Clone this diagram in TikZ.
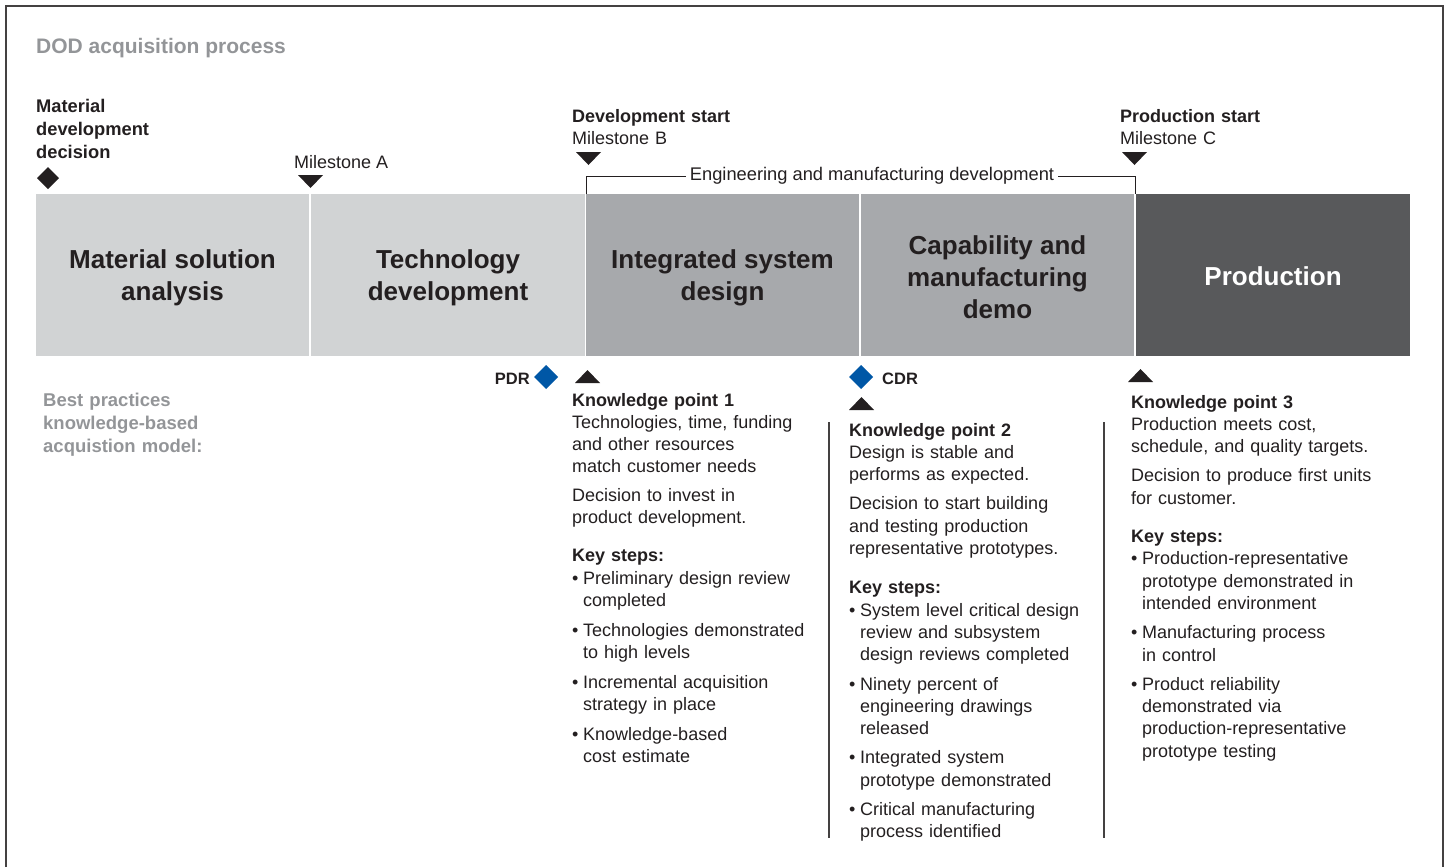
\documentclass[tikz,border=0pt]{standalone}
\usepackage{fontspec}
\setmainfont{Liberation Sans}
\definecolor{ink}{HTML}{231F20}
\definecolor{barlight}{HTML}{D1D3D4}
\definecolor{barmid}{HTML}{A7A9AC}
\definecolor{bardark}{HTML}{58595B}
\definecolor{titlegray}{HTML}{939598}
\definecolor{dblue}{HTML}{0057A6}
\newcommand{\bul}{\makebox[11pt][l]{\textbullet}}
\newcommand{\ind}{\hspace*{11pt}}
\tikzset{
  bartext/.style={font=\fontsize{26}{32}\selectfont\bfseries, text=ink, align=center},
  small/.style={font=\fontsize{18}{22.3}\selectfont, text=ink, inner sep=0pt, anchor=base west},
  block/.style={small, text width=270pt, align=left},
  mark/.style={fill=ink, draw=none},
}
\begin{document}
\begin{tikzpicture}[x=1pt,y=-1pt]
\useasboundingbox (0,0) rectangle (1447,867);
% border
\draw[line width=1.5pt, draw=ink!85] (6,867) -- (6,6) -- (1443,6) -- (1443,867);
% title
\node[small, font=\fontsize{21}{25}\selectfont\bfseries, text=titlegray] (title) at (36,54) {DOD acquisition process};
% material development decision
\node[block, font=\fontsize{18.3}{23}\selectfont\bfseries] (mdd) at (36,112) {Material\\development\\decision};
\fill[ink] (48,167) -- (59,178) -- (48,189) -- (37,178) -- cycle;
% milestone A
\node[small] (msa) at (294,168) {Milestone A};
\fill[ink] (298,175) -- (323,175) -- (310.5,188) -- cycle;
% milestone B
\node[block] (msb) at (572,122) {\textbf{Development start}\\[-0.3pt]Milestone B};
\fill[ink] (576,152) -- (601,152) -- (588.5,165) -- cycle;
% milestone C
\node[block] (msc) at (1120,122) {\textbf{Production start}\\[-0.3pt]Milestone C};
\fill[ink] (1122,152) -- (1147,152) -- (1134.5,165) -- cycle;
% bars
\fill[barlight] (36,194) rectangle (309,356);
\fill[barlight] (311,194) rectangle (585,356);
\fill[barmid] (586,194) rectangle (859,356);
\fill[barmid] (861,194) rectangle (1134,356);
\fill[bardark] (1136,194) rectangle (1410,356);
\node[bartext] (b1) at (172.5,278) {Material solution\\analysis};
\node[bartext] (b2) at (448,278) {Technology\\development};
\node[bartext] (b3) at (722.5,278) {Integrated system\\design};
\node[bartext] (b4) at (997.5,277) {Capability and\\manufacturing\\demo};
\node[bartext, text=white] (b5) at (1273,276) {Production};
% bracket
\node[font=\fontsize{18.3}{22}\selectfont, text=ink, inner sep=4pt] (emd) at (872,176) {Engineering and manufacturing development};
\draw[line width=1pt, draw=ink] (586,194) |- (emd.west);
\draw[line width=1pt, draw=ink] (emd.east) -| (1135,194);
% PDR
\node[small, font=\fontsize{16.5}{20}\selectfont\bfseries, anchor=base east] (pdr) at (530,384) {PDR};
\fill[dblue] (546,365) -- (558,377) -- (546,389) -- (534,377) -- cycle;
% CDR
\fill[dblue] (861,365) -- (873,377) -- (861,389) -- (849,377) -- cycle;
\node[small, font=\fontsize{16.5}{20}\selectfont\bfseries] (cdr) at (882,384) {CDR};
% up triangles
\fill[ink] (575,383) -- (600,383) -- (587.5,370) -- cycle;
\fill[ink] (849,410) -- (874,410) -- (861.5,397) -- cycle;
\fill[ink] (1128,382) -- (1153,382) -- (1140.5,369) -- cycle;
% vertical rules
\draw[line width=1.2pt, draw=ink!85] (829,422) -- (829,838);
\draw[line width=1.2pt, draw=ink!85] (1104,422) -- (1104,838);
% best practices
\node[block, font=\fontsize{18.5}{23}\selectfont\bfseries, text=titlegray] (bp) at (43,406) {Best practices\\knowledge-based\\acquistion model:};
% KP1
\node[block] (kp1) at (572,406) {\textbf{Knowledge point 1}\\
Technologies, time, funding\\
and other resources\\
match customer needs\\[6pt]
Decision to invest in\\
product development.\\[16pt]
\textbf{Key steps:}\\
\bul Preliminary design review\\
\ind completed\\[7.5pt]
\bul Technologies demonstrated\\
\ind to high levels\\[7.5pt]
\bul Incremental acquisition\\
\ind strategy in place\\[7.5pt]
\bul Knowledge-based\\
\ind cost estimate};
% KP2
\node[block] (kp2) at (849,436) {\textbf{Knowledge point 2}\\
Design is stable and\\
performs as expected.\\[7pt]
Decision to start building\\
and testing production\\
representative prototypes.\\[17pt]
\textbf{Key steps:}\\
\bul System level critical design\\
\ind review and subsystem\\
\ind design reviews completed\\[7pt]
\bul Ninety percent of\\
\ind engineering drawings\\
\ind released\\[7pt]
\bul Integrated system\\
\ind prototype demonstrated\\[7pt]
\bul Critical manufacturing\\
\ind process identified};
% KP3
\node[block] (kp3) at (1131,408) {\textbf{Knowledge point 3}\\
Production meets cost,\\
schedule, and quality targets.\\[7pt]
Decision to produce first units\\
for customer.\\[16pt]
\textbf{Key steps:}\\
\bul Production-representative\\
\ind prototype demonstrated in\\
\ind intended environment\\[7pt]
\bul Manufacturing process\\
\ind in control\\[7pt]
\bul Product reliability\\
\ind demonstrated via\\
\ind production-representative\\
\ind prototype testing};
\end{tikzpicture}
\end{document}
